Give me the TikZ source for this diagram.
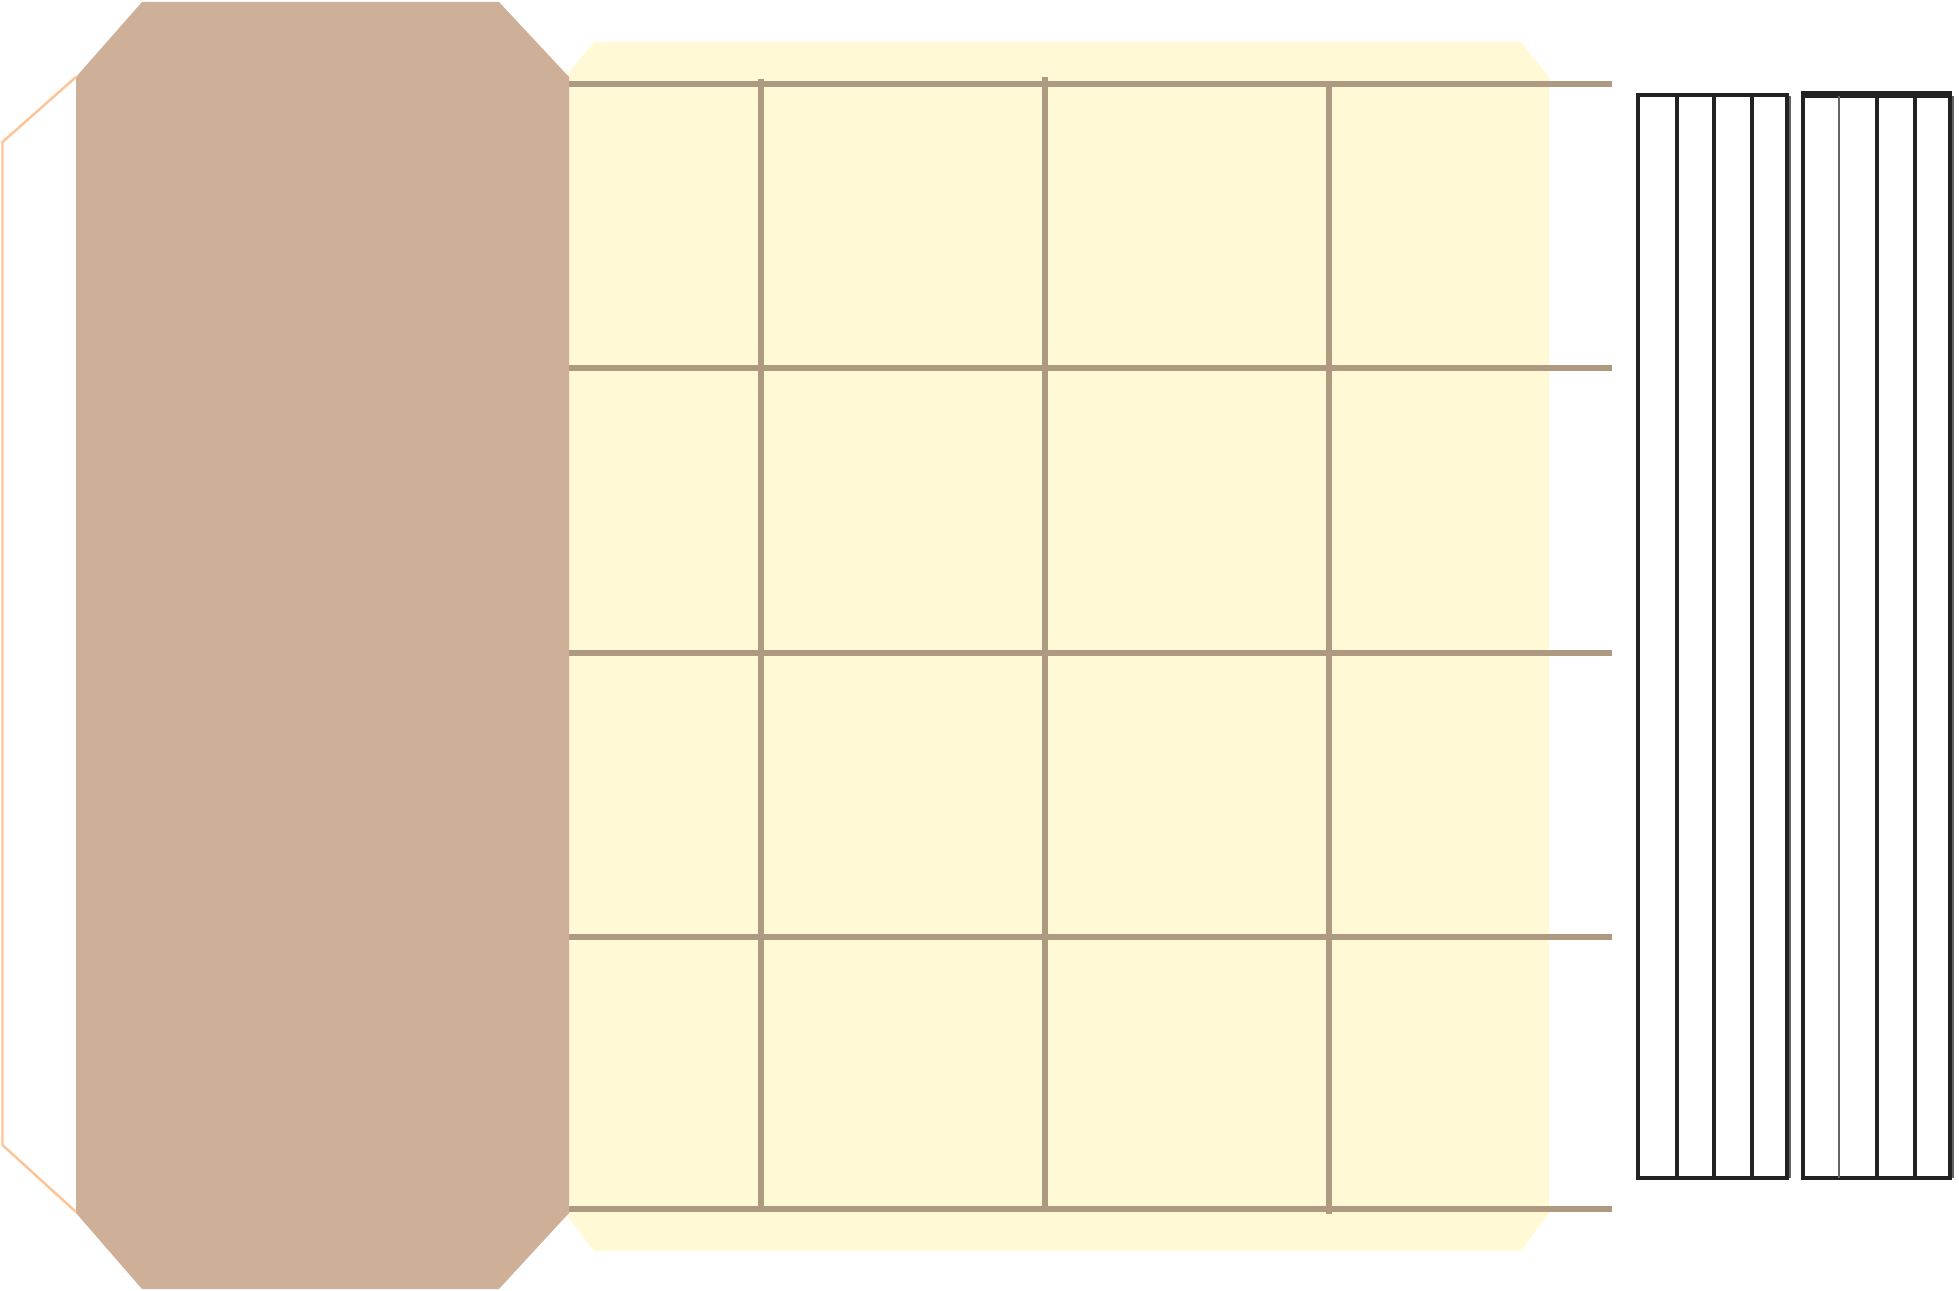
\documentclass[tikz,border=0pt]{standalone}
\usepackage{tikz}
\usepackage{xcolor}

\definecolor{bodybrown}{RGB}{206,176,153}
\definecolor{paleyellow}{RGB}{255,249,214}
\definecolor{gridtan}{RGB}{173,154,128}
\definecolor{edgeorange}{RGB}{255,196,150}
\definecolor{framegray}{RGB}{34,34,34}

\begin{document}
\begin{tikzpicture}[
	x=0.01cm, y=-0.01cm,
	body/.style={fill=bodybrown, draw=none},
	panel/.style={fill=paleyellow, draw=none},
	gridline/.style={draw=gridtan, line width=1.45pt},
	outline/.style={draw=edgeorange, line width=0.7pt, line join=miter},
	frame/.style={draw=framegray, line width=0.9pt},
	thinframe/.style={draw=framegray!70, line width=0.45pt}
]
	\useasboundingbox (0,0) rectangle (1959,1291);

	% yellow panel behind the grid
	\fill[panel] (594,42) -- (1521,42) -- (1549,77) -- (1549,1213) -- (1521,1251) -- (594,1251) -- (565,1213) -- (565,77) -- cycle;

	% brown block and its orange flap
	\fill[body] (142,2) -- (499,2) -- (569,77) -- (569,1213) -- (499,1289) -- (142,1289) -- (76,1213) -- (76,77) -- cycle;
	\draw[outline] (76,77) -- (2.5,142) -- (2.5,1145) -- (76,1212);

	% grid
	\foreach \y in {84,368,653,937,1209}
		\draw[gridline] (569,\y) -- (1612,\y);
	\foreach \x/\top/\bot in {761/79/1212, 1045/77/1209, 1329/81/1214}
		\draw[gridline] (\x,\top) -- (\x,\bot);

	% left slat box
	\draw[frame] (1638,95) rectangle (1787,1178);
	\foreach \x in {1677,1714,1752}
		\draw[frame] (\x,95) -- (\x,1178);
	\draw[thinframe] (1790,96) -- (1790,1178);

	% right slat box
	\draw[frame] (1803,96) rectangle (1950,1178);
	\draw[frame] (1803,96) -- (1803,92.5) -- (1950,92.5) -- (1950,96);
	\draw[thinframe] (1839,96) -- (1839,1178);
	\foreach \x in {1877,1915}
		\draw[frame] (\x,96) -- (\x,1178);
	\draw[thinframe] (1953,96) -- (1953,1178);
\end{tikzpicture}
\end{document}
